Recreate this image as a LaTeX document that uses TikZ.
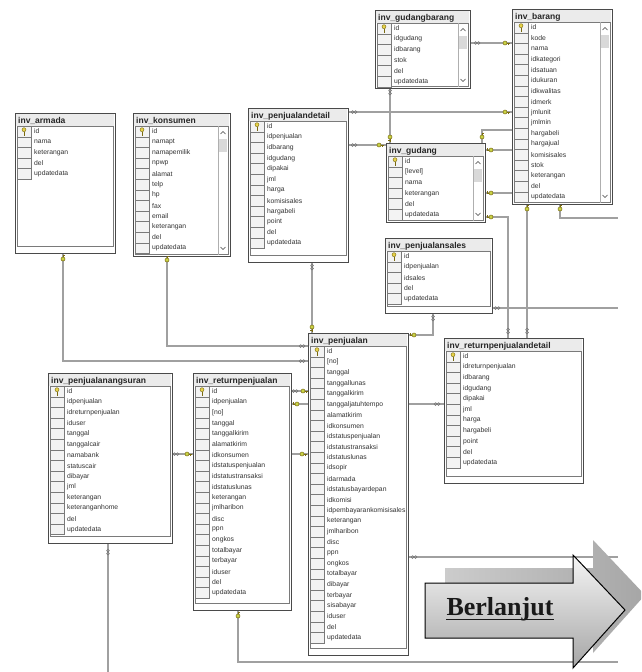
\documentclass[tikz,border=0pt]{standalone}
\usepackage{fontspec}
\setmainfont{Liberation Sans}
\newfontfamily\bannerfont{Liberation Serif}
\usetikzlibrary{calc}
\pgfdeclarelayer{paper}
\pgfdeclarelayer{links}
\pgfsetlayers{paper,links,main}

\definecolor{linkgray}{HTML}{A0A0A0}
\definecolor{framegray}{HTML}{4A4A4A}
\definecolor{titlebar}{HTML}{EBEBEB}
\definecolor{cellfill}{HTML}{F3F3F3}
\definecolor{cellline}{HTML}{7A7A7A}
\definecolor{keyfill}{HTML}{E6D24A}
\definecolor{keyline}{HTML}{7A6A10}
\definecolor{fkfill}{HTML}{C9D345}

\tikzset{
  tablebox/.style={draw=framegray, line width=1.1pt, fill=white, rectangle, inner sep=0pt},
  tabletitle/.style={anchor=west, inner sep=0pt, font=\fontsize{8.5}{9}\selectfont\bfseries, text=black!85},
  rowtext/.style={anchor=west, inner sep=0pt, font=\fontsize{6.8}{7}\selectfont, text=black!80},
  selcell/.style={draw=cellline, line width=0.5pt, fill=cellfill},
  link/.style={draw=linkgray, line width=1.7pt},
  pkey/.pic={
    \filldraw[fill=keyfill, draw=keyline, line width=0.4pt] (0,-1.8) circle (2);
    \draw[keyline, line width=0.9pt] (0,0.2) -- (0,4) (0,2.8) -- (1.4,2.8) (0,3.8) -- (1.4,3.8);
  },
  manyend/.pic={
    \draw[black!55, line width=0.5pt] (-1.5,0) circle (1.4) (1.5,0) circle (1.4);
  },
  oneend/.pic={
    \draw[keyline, line width=0.5pt, fill=fkfill] (0,0) circle (2);
    \draw[keyline, line width=0.6pt] (2,0) -- (4.5,0) (3.6,0) -- (3.6,1.6);
  },
}

\newcommand\rowh{10.6}
% #1 name, #2 left, #3 top, #4 width, #5 height, #6 title, #7 columns, #8 scrollbar (1/0)
\newcommand\dbtable[8]{%
  \node[tablebox, minimum width=#4pt, minimum height=#5pt, anchor=north west] (#1) at (#2,#3) {};
  \begin{scope}[shift={(#2,#3)}]
    \fill[titlebar] (0.6,0.6) rectangle (#4-0.6,13.2);
    \node[tabletitle] (#1-title) at (3,8) {#6};
    \ifnum#8=1
      \draw[cellline, line width=0.5pt] (2,13.2) rectangle (#4-2,#5-1.5);
    \else
      \draw[cellline, line width=0.5pt] (2,13.2) rectangle (#4-2,#5-7);
    \fi
    \foreach \rowname [count=\i from 0] in {#7} {
      \draw[selcell] (2,13.2+\i*\rowh) rectangle (16,13.2+\i*\rowh+\rowh);
      \node[rowtext] (#1-row\i) at (19,18.5+\i*\rowh) {\rowname};
    }
    \pic at (9,18.5) {pkey};
    \ifnum#8=1
      \fill[white] (#4-12,13.6) rectangle (#4-2.5,#5-2);
      \draw[cellline!60, line width=0.4pt] (#4-12,13.2) -- (#4-12,#5-1.5);
      \fill[gray!30] (#4-11.2,26) rectangle (#4-3.2,39);
      \draw[black!75, line width=0.6pt] (#4-9.5,21) -- (#4-7,18.5) -- (#4-4.5,21);
      \draw[black!75, line width=0.6pt] (#4-9.5,#5-9) -- (#4-7,#5-6.5) -- (#4-4.5,#5-9);
    \fi
  \end{scope}}

\begin{document}
\begin{tikzpicture}[x=1pt, y=-1pt]
\begin{pgfonlayer}{paper}
  \fill[white] (0,0) rectangle (641,672);
\end{pgfonlayer}
\useasboundingbox (0,0) rectangle (641,672);
\clip (0,0) rectangle (641,672);

% ---------- tables ----------
\dbtable{armada}{15}{113}{100}{140}{inv\_armada}{id,nama,keterangan,del,updatedata}{0}
\dbtable{konsumen}{133}{113}{97}{143}{inv\_konsumen}{id,namapt,namapemilik,npwp,alamat,telp,hp,fax,email,keterangan,del,updatedata}{1}
\dbtable{pdetail}{248}{108}{100}{154}{inv\_penjualandetail}{id,idpenjualan,idbarang,idgudang,dipakai,jml,harga,komisisales,hargabeli,point,del,updatedata}{0}
\dbtable{gbarang}{375}{10}{95}{78}{inv\_gudangbarang}{id,idgudang,idbarang,stok,del,updatedata}{1}
\dbtable{barang}{512}{9}{100}{195}{inv\_barang}{id,kode,nama,idkategori,idsatuan,idukuran,idkwalitas,idmerk,jmlunit,jmlmin,hargabeli,hargajual,komisisales,stok,keterangan,del,updatedata}{1}
\dbtable{gudang}{386}{143}{99}{79}{inv\_gudang}{id,[level],nama,keterangan,del,updatedata}{1}
\dbtable{psales}{385}{238}{107}{75}{inv\_penjualansales}{id,idpenjualan,idsales,del,updatedata}{0}
\dbtable{penjualan}{308}{333}{100}{322}{inv\_penjualan}{id,[no],tanggal,tanggallunas,tanggalkirim,tanggaljatuhtempo,alamatkirim,idkonsumen,idstatuspenjualan,idstatustransaksi,idstatuslunas,idsopir,idarmada,idstatusbayardepan,idkomisi,idpembayarankomisisales,keterangan,jmlharibon,disc,ppn,ongkos,totalbayar,dibayar,terbayar,sisabayar,iduser,del,updatedata}{0}
\dbtable{rpdetail}{444}{338}{139}{145}{inv\_returnpenjualandetail}{id,idreturnpenjualan,idbarang,idgudang,dipakai,jml,harga,hargabeli,point,del,updatedata}{0}
\dbtable{rpenjualan}{193}{373}{98}{237}{inv\_returnpenjualan}{id,idpenjualan,[no],tanggal,tanggalkirim,alamatkirim,idkonsumen,idstatuspenjualan,idstatustransaksi,idstatuslunas,keterangan,jmlharibon,disc,ppn,ongkos,totalbayar,terbayar,iduser,del,updatedata}{0}
\dbtable{angsuran}{48}{373}{124}{170}{inv\_penjualanangsuran}{id,idpenjualan,idreturnpenjualan,iduser,tanggal,tanggalcair,namabank,statuscair,dibayar,jml,keterangan,keteranganhome,del,updatedata}{0}

% ---------- free ends of links leaving the sheet ----------
\coordinate (outA) at (618,218);
\coordinate (outB) at (618,308);
\coordinate (outC) at (618,557);
\coordinate (outD) at (618,662);
\coordinate (outE) at (108,672);

% ---------- relationship lines ----------
\begin{pgfonlayer}{links}
  \draw[link] (armada.south -| 63,0) |- (penjualan.west |- 0,361);
  \draw[link] (konsumen.south -| 167,0) |- (penjualan.west |- 0,346);
  \draw[link] (pdetail.south -| 312,0) -- (penjualan.north -| 312,0);
  \draw[link] (pdetail.east |- 0,112) -- (barang.west |- 0,112);
  \draw[link] (pdetail.east |- 0,145) -- (gudang.west |- 0,145);
  \draw[link] (gbarang.south -| 390,0) -- (gudang.north -| 390,0);
  \draw[link] (gbarang.east |- 0,43) -- (barang.west |- 0,43);
  \draw[link] (gudang.north -| 482,0) |- (barang.west |- 0,130);
  \draw[link] (gudang.east |- 0,150) -- (barang.west |- 0,150);
  \draw[link] (gudang.east |- 0,193) -- (barang.west |- 0,193);
  \draw[link] (gudang.east |- 0,217) -| (rpdetail.north -| 508,0);
  \draw[link] (barang.south -| 527,0) -- (rpdetail.north -| 527,0);
  \draw[link] (barang.south -| 560,0) |- (outA);
  \draw[link] (barang.east |- 0,45) -- (barang.east |- 620,45);
  \draw[link] (barang.east |- 0,130) -- (barang.east |- 620,130);
  \draw[link] (barang.east |- 0,150) -- (barang.east |- 620,150);
  \draw[link] (barang.east |- 0,180) -- (barang.east |- 620,180);
  \draw[link] (psales.east |- 0,308) -- (outB);
  \draw[link] (psales.south -| 433,0) |- (penjualan.east |- 0,335);
  \draw[link] (rpenjualan.east |- 0,391) -- (penjualan.west |- 0,391);
  \draw[link] (rpenjualan.east |- 0,404) -- (rpdetail.west |- 0,404);
  \draw[link] (angsuran.east |- 0,454) -- (penjualan.west |- 0,454);
  \draw[link] (angsuran.south -| 108,0) -- (outE);
  \draw[link] (rpenjualan.south -| 238,0) |- (outD);
  \draw[link] (penjualan.east |- 0,557) -- (outC);
\end{pgfonlayer}

% ---------- line end markers ----------
\pic[rotate=90] at (63,259) {oneend};
\pic[rotate=90] at (167,260) {oneend};
\pic at (302,361) {manyend};
\pic at (302,346) {manyend};
\pic[rotate=90] at (312,267) {manyend};
\pic[rotate=-90] at (312,327) {oneend};
\pic at (354,112) {manyend};
\pic at (505,112) {oneend};
\pic at (354,145) {manyend};
\pic at (379,145) {oneend};
\pic[rotate=90] at (390,92) {manyend};
\pic[rotate=-90] at (390,137) {oneend};
\pic at (477,43) {manyend};
\pic at (505,43) {oneend};
\pic[rotate=90] at (482,137) {oneend};
\pic[rotate=180] at (491,150) {oneend};
\pic[rotate=180] at (491,193) {oneend};
\pic[rotate=180] at (491,217) {oneend};
\pic[rotate=90] at (508,331) {manyend};
\pic[rotate=90] at (527,209) {oneend};
\pic[rotate=90] at (527,331) {manyend};
\pic[rotate=90] at (560,209) {oneend};
\pic at (497,308) {manyend};
\pic[rotate=90] at (433,318) {manyend};
\pic[rotate=180] at (414,335) {oneend};
\pic at (295,391) {manyend};
\pic at (303,391) {oneend};
\pic[rotate=180] at (297,404) {oneend};
\pic at (437,404) {manyend};
\pic at (176,454) {manyend};
\pic at (187,454) {oneend};
\pic at (302,454) {oneend};
\pic[rotate=90] at (108,552) {manyend};
\pic[rotate=90] at (238,616) {oneend};
\pic at (414,557) {manyend};

% ---------- continuation arrow ----------
\shade[left color=gray!40, right color=gray!70]
  (445,568) -- (593,568) -- (593,540) -- (645,595) -- (593,653) -- (593,623) -- (445,623) -- cycle;
\draw[black, line width=1pt, top color=gray!8, bottom color=gray!70]
  (425,583) -- (573,583) -- (573,555) -- (625,610) -- (573,668) -- (573,638) -- (425,638) -- cycle;
\node[anchor=base, inner sep=0pt, font=\bannerfont\bfseries\fontsize{26}{28}\selectfont, text=black!90]
  (berlanjut) at (500,615) {Berlanjut};
\draw[black!90, line width=1.3pt] ($(berlanjut.base west)+(0,4.5)$) -- ($(berlanjut.base east)+(0,4.5)$);
\end{tikzpicture}
\end{document}
